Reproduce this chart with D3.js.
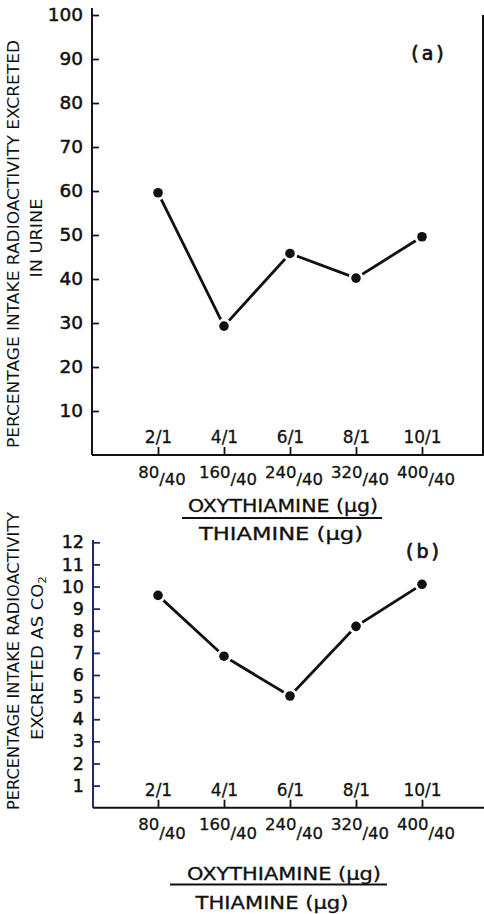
<!DOCTYPE html>
<html>
<head>
<meta charset="utf-8">
<script src="https://cdn.jsdelivr.net/npm/d3@7"></script>
<style>
  html, body { margin: 0; padding: 0; background: #fff; }
  svg { display: block; }
  text { font-family: "DejaVu Sans", "Liberation Sans", sans-serif; fill: #111; }
</style>
</head>
<body>
<svg id="chart" width="484" height="914"></svg>
<script>
// Oxythiamine : thiamine dose ratios
const ratios = ["2/1", "4/1", "6/1", "8/1", "10/1"];
const oxythiamineDoses = ["80", "160", "240", "320", "400"];
const thiamineDose = "40";

// (a) % of intake radioactivity excreted in urine
const urineValues = [59.6, 29.3, 45.8, 40.2, 49.6];
const urineTicks = [10, 20, 30, 40, 50, 60, 70, 80, 90, 100];

// (b) % of intake radioactivity excreted as CO2
const co2Values = [9.6, 6.85, 5.05, 8.2, 10.1];
const co2Ticks = [1, 2, 3, 4, 5, 6, 7, 8, 9, 10, 11, 12];

const svg = d3.select("#chart");

const x = d3.scalePoint().domain(ratios).range([158, 422]);

// slightly heavier strokes on labels, like the drafted lettering
function heavy(sel, w) {
  sel.attr("stroke", "#111").attr("stroke-width", w).attr("paint-order", "stroke");
}

function panel(cfg) {
  const g = svg.append("g");
  const y = d3.scaleLinear().domain(cfg.domain).range(cfg.range);
  const y0 = y(0);

  // vertical axis line (runs a little past the top tick)
  g.append("line")
    .attr("x1", cfg.axisX).attr("x2", cfg.axisX)
    .attr("y1", cfg.axisTop).attr("y2", y0)
    .attr("stroke", cfg.axisColor).attr("stroke-width", 2);

  // y ticks pointing inward, labels to the left
  const ya = g.append("g")
    .attr("transform", `translate(${cfg.axisX},0)`)
    .call(d3.axisLeft(y).tickValues(cfg.ticks).tickSizeInner(-7).tickSizeOuter(0).tickPadding(9));
  ya.select(".domain").remove();
  ya.selectAll(".tick line").attr("stroke", cfg.axisColor).attr("stroke-width", 1.8);
  ya.selectAll(".tick text")
    .attr("font-size", cfg.tickFont)
    .attr("font-family", "DejaVu Sans")
    .attr("fill", "#111")
    .call(heavy, 0.5);

  // horizontal axis with upward ticks and ratio labels above
  g.append("line")
    .attr("x1", cfg.axisX).attr("x2", 484)
    .attr("y1", y0).attr("y2", y0)
    .attr("stroke", "#111").attr("stroke-width", 2);
  const xa = g.append("g")
    .attr("transform", `translate(0,${y0})`)
    .call(d3.axisTop(x).tickSize(8).tickPadding(4));
  xa.select(".domain").remove();
  xa.selectAll(".tick line").attr("stroke", "#111").attr("stroke-width", 1.8);
  xa.selectAll(".tick text")
    .attr("font-size", 17)
    .attr("font-family", "DejaVu Sans")
    .attr("fill", "#111")
    .call(heavy, 0.3);

  // dose fractions below the axis (µg oxythiamine / µg thiamine)
  const frac = g.selectAll("text.frac")
    .data(ratios)
    .join("text")
    .attr("class", "frac")
    .attr("x", d => x(d) + 4)
    .attr("y", y0 + cfg.numOffset)
    .attr("text-anchor", "middle")
    .attr("font-size", 16.5)
    .call(heavy, 0.3);
  frac.append("tspan").text((d, i) => oxythiamineDoses[i]);
  frac.append("tspan").attr("dy", cfg.denShift).text("/" + thiamineDose);

  // series line
  const line = d3.line().x((d, i) => x(ratios[i])).y(d => y(d));
  g.append("path")
    .datum(cfg.values)
    .attr("d", line)
    .attr("fill", "none")
    .attr("stroke", "#111")
    .attr("stroke-width", 2.8);

  // points with a small white halo
  g.selectAll("circle.halo")
    .data(cfg.values)
    .join("circle")
    .attr("class", "halo")
    .attr("cx", (d, i) => x(ratios[i]))
    .attr("cy", d => y(d))
    .attr("r", 7.5)
    .attr("fill", "#fff");
  g.selectAll("circle.pt")
    .data(cfg.values)
    .join("circle")
    .attr("class", "pt")
    .attr("cx", (d, i) => x(ratios[i]))
    .attr("cy", d => y(d))
    .attr("r", 4.8)
    .attr("fill", "#111");

  // panel letter
  g.append("text")
    .attr("x", cfg.letterX).attr("y", cfg.letterY)
    .attr("text-anchor", "middle")
    .attr("font-size", 19)
    .attr("letter-spacing", 3)
    .call(heavy, 0.7)
    .text(cfg.letter);

  // rotated y-axis title (two lines)
  cfg.yTitle.forEach(t => {
    const txt = g.append("text")
      .attr("transform", `translate(${t.cx},${t.cy}) rotate(-90)`)
      .attr("text-anchor", "middle")
      .attr("dy", "0.36em")
      .attr("font-size", 15)
      .attr("textLength", t.len)
      .attr("lengthAdjust", "spacingAndGlyphs");
    txt.append("tspan").text(t.text);
    if (t.sub) {
      txt.append("tspan").attr("font-size", 10).attr("dy", 3).text(t.sub);
    }
  });

  // x-axis title as a fraction
  const xt = cfg.xTitle;
  g.append("text")
    .attr("x", xt.numX).attr("y", xt.numY)
    .attr("text-anchor", "middle")
    .attr("font-size", 17)
    .attr("textLength", xt.numLen)
    .attr("lengthAdjust", "spacingAndGlyphs")
    .call(heavy, 0.3)
    .text("OXYTHIAMINE (µg)");
  g.append("line")
    .attr("x1", xt.barX1).attr("x2", xt.barX2)
    .attr("y1", xt.barY).attr("y2", xt.barY)
    .attr("stroke", "#111").attr("stroke-width", 2);
  g.append("text")
    .attr("x", xt.denX).attr("y", xt.denY)
    .attr("text-anchor", "middle")
    .attr("font-size", 17)
    .attr("textLength", xt.denLen)
    .attr("lengthAdjust", "spacingAndGlyphs")
    .call(heavy, 0.3)
    .text("THIAMINE (µg)");

  return { g, y };
}

// (a) urine
const a = panel({
  domain: [0, 100], range: [455, 15], axisX: 92, axisTop: 8,
  axisColor: "#15152a", ticks: urineTicks, tickFont: 18.5,
  values: urineValues, numOffset: 23, denShift: 7,
  letter: "(a)", letterX: 429, letterY: 60,
  yTitle: [
    { text: "PERCENTAGE INTAKE RADIOACTIVITY EXCRETED", cx: 14, cy: 244, len: 408 },
    { text: "IN URINE", cx: 37, cy: 238, len: 79 }
  ],
  xTitle: { numX: 283, numY: 512, numLen: 190, barX1: 182, barX2: 382, barY: 518,
            denX: 281, denY: 540, denLen: 164 }
});
// right frame edge of panel (a)
a.g.append("line")
  .attr("x1", 483).attr("x2", 483)
  .attr("y1", a.y(100)).attr("y2", a.y(0))
  .attr("stroke", "#111").attr("stroke-width", 2);

// (b) CO2
panel({
  domain: [0, 12], range: [807.7, 542.3], axisX: 93, axisTop: 540,
  axisColor: "#1f2a6e", ticks: co2Ticks, tickFont: 17.5,
  values: co2Values, numOffset: 22, denShift: 9,
  letter: "(b)", letterX: 424, letterY: 558,
  yTitle: [
    { text: "PERCENTAGE INTAKE RADIOACTIVITY", cx: 14, cy: 661, len: 298 },
    { text: "EXCRETED AS CO", sub: "2", cx: 38, cy: 658, len: 164 }
  ],
  xTitle: { numX: 284, numY: 880, numLen: 194, barX1: 170, barX2: 387, barY: 884.5,
            denX: 272, denY: 909, denLen: 153 }
});
</script>
</body>
</html>
